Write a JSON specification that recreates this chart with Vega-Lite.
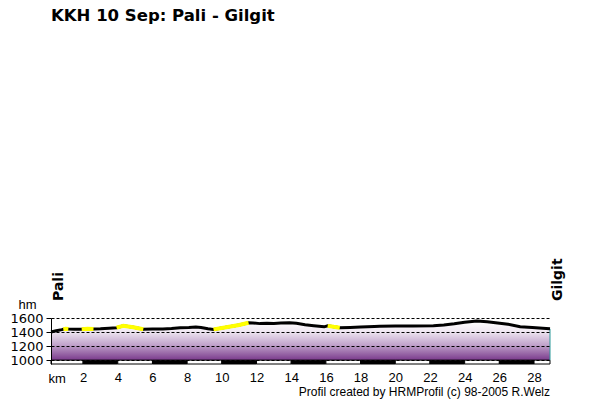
{
  "$schema": "https://vega.github.io/schema/vega-lite/v6.json",
  "width": 499,
  "height": 46,
  "autosize": "none",
  "padding": {"left": 51, "top": 318, "right": 50, "bottom": 36},
  "background": "white",
  "title": {
    "text": "KKH 10 Sep: Pali - Gilgit",
    "anchor": "start",
    "frame": "group",
    "font": "DejaVu Sans",
    "fontSize": 16.5,
    "fontWeight": "bold",
    "color": "black",
    "baseline": "alphabetic",
    "offset": 0,
    "dy": -221
  },
  "datasets": {
    "profile": [
      {"km": 0.15, "elev": 1400, "seg": 0},
      {"km": 0.45, "elev": 1418, "seg": 0},
      {"km": 0.77, "elev": 1434, "seg": 0},
      {"km": 0.86, "elev": 1440, "seg": 1},
      {"km": 1.0, "elev": 1446, "seg": 1},
      {"km": 1.15, "elev": 1442, "seg": 1},
      {"km": 1.5, "elev": 1440, "seg": 0},
      {"km": 1.92, "elev": 1440, "seg": 2},
      {"km": 2.25, "elev": 1446, "seg": 2},
      {"km": 2.6, "elev": 1442, "seg": 2},
      {"km": 3.0, "elev": 1446, "seg": 0},
      {"km": 3.5, "elev": 1455, "seg": 0},
      {"km": 3.93, "elev": 1462, "seg": 3},
      {"km": 4.32, "elev": 1490, "seg": 3},
      {"km": 4.9, "elev": 1468, "seg": 3},
      {"km": 5.47, "elev": 1440, "seg": 3},
      {"km": 6.0, "elev": 1442, "seg": 0},
      {"km": 6.6, "elev": 1444, "seg": 0},
      {"km": 7.1, "elev": 1450, "seg": 0},
      {"km": 7.6, "elev": 1462, "seg": 0},
      {"km": 8.1, "elev": 1466, "seg": 0},
      {"km": 8.5, "elev": 1472, "seg": 0},
      {"km": 8.8, "elev": 1466, "seg": 0},
      {"km": 9.2, "elev": 1448, "seg": 0},
      {"km": 9.52, "elev": 1438, "seg": 4},
      {"km": 10.0, "elev": 1458, "seg": 4},
      {"km": 10.5, "elev": 1478, "seg": 4},
      {"km": 11.0, "elev": 1500, "seg": 4},
      {"km": 11.54, "elev": 1532, "seg": 4},
      {"km": 11.8, "elev": 1530, "seg": 0},
      {"km": 12.2, "elev": 1520, "seg": 0},
      {"km": 12.6, "elev": 1526, "seg": 0},
      {"km": 13.0, "elev": 1522, "seg": 0},
      {"km": 13.4, "elev": 1530, "seg": 0},
      {"km": 13.9, "elev": 1532, "seg": 0},
      {"km": 14.3, "elev": 1524, "seg": 0},
      {"km": 14.8, "elev": 1505, "seg": 0},
      {"km": 15.3, "elev": 1490, "seg": 0},
      {"km": 15.9, "elev": 1474, "seg": 0},
      {"km": 16.1, "elev": 1488, "seg": 5},
      {"km": 16.45, "elev": 1474, "seg": 5},
      {"km": 16.8, "elev": 1462, "seg": 5},
      {"km": 17.4, "elev": 1466, "seg": 0},
      {"km": 18.0, "elev": 1472, "seg": 0},
      {"km": 18.8, "elev": 1480, "seg": 0},
      {"km": 19.1, "elev": 1484, "seg": 0},
      {"km": 20.0, "elev": 1486, "seg": 0},
      {"km": 21.0, "elev": 1486, "seg": 0},
      {"km": 22.2, "elev": 1488, "seg": 0},
      {"km": 22.8, "elev": 1500, "seg": 0},
      {"km": 23.4, "elev": 1518, "seg": 0},
      {"km": 24.0, "elev": 1540, "seg": 0},
      {"km": 24.7, "elev": 1556, "seg": 0},
      {"km": 25.3, "elev": 1548, "seg": 0},
      {"km": 25.9, "elev": 1530, "seg": 0},
      {"km": 26.5, "elev": 1512, "seg": 0},
      {"km": 27.2, "elev": 1476, "seg": 0},
      {"km": 27.9, "elev": 1466, "seg": 0},
      {"km": 28.7, "elev": 1450, "seg": 0},
      {"km": 28.92, "elev": 1446, "seg": 0}
    ],
    "scale": [
      {"from": 0.15, "to": 2, "shade": "w"},
      {"from": 2, "to": 4, "shade": "b"},
      {"from": 4, "to": 6, "shade": "w"},
      {"from": 6, "to": 8, "shade": "b"},
      {"from": 8, "to": 10, "shade": "w"},
      {"from": 10, "to": 12, "shade": "b"},
      {"from": 12, "to": 14, "shade": "w"},
      {"from": 14, "to": 16, "shade": "b"},
      {"from": 16, "to": 18, "shade": "w"},
      {"from": 18, "to": 20, "shade": "b"},
      {"from": 20, "to": 22, "shade": "w"},
      {"from": 22, "to": 24, "shade": "b"},
      {"from": 24, "to": 26, "shade": "w"},
      {"from": 26, "to": 28, "shade": "b"},
      {"from": 28, "to": 28.92, "shade": "w"}
    ],
    "ends": [
      {"km": 0.15, "name": "Pali"},
      {"km": 28.92, "name": "Gilgit"}
    ],
    "notes": [
      {"note": "Profil created by HRMProfil (c) 98-2005 R.Welz"}
    ]
  },
  "layer": [
    {
      "data": {"name": "profile"},
      "mark": {
        "type": "area",
        "color": {
          "gradient": "linear",
          "x1": 0, "y1": 0, "x2": 0, "y2": 1,
          "stops": [
            {"offset": 0, "color": "#ffffff"},
            {"offset": 0.25, "color": "#f1eaf3"},
            {"offset": 0.6, "color": "#c2a5cc"},
            {"offset": 1, "color": "#7a3a8c"}
          ]
        }
      },
      "encoding": {
        "x": {
          "field": "km",
          "type": "quantitative",
          "scale": {"domain": [0.15, 28.92], "nice": false, "zero": false},
          "axis": {
            "values": [2, 4, 6, 8, 10, 12, 14, 16, 18, 20, 22, 24, 26, 28],
            "tickCount": 30,
            "labelOverlap": false,
            "labelFlush": false,
            "ticks": false,
            "domain": false,
            "grid": false,
            "labelPadding": 7,
            "labelFont": "Liberation Sans",
            "labelFontSize": 13,
            "labelColor": "black",
            "title": "km",
            "titleFont": "Liberation Sans",
            "titleFontSize": 13,
            "titleFontWeight": "normal",
            "titleColor": "black",
            "titleAlign": "left",
            "titleBaseline": "alphabetic",
            "titleX": -3,
            "titleY": 18
          }
        },
        "y": {
          "field": "elev",
          "type": "quantitative",
          "scale": {"domain": [945, 1600], "nice": false, "zero": false},
          "axis": {
            "values": [1000, 1200, 1400, 1600],
            "tickCount": 10,
            "format": "d",
            "labelOverlap": false,
            "labelFlush": false,
            "zindex": 1,
            "grid": true,
            "gridColor": "black",
            "gridDash": [3, 2],
            "gridWidth": 1,
            "gridOpacity": 1,
            "domainColor": "black",
            "tickColor": "black",
            "tickSize": 5,
            "labelPadding": 3,
            "labelFont": "DejaVu Sans",
            "labelFontSize": 13,
            "labelColor": "black",
            "title": "hm",
            "titleAngle": 0,
            "titleFont": "Liberation Sans",
            "titleFontSize": 13,
            "titleFontWeight": "normal",
            "titleColor": "black",
            "titleAlign": "left",
            "titleBaseline": "alphabetic",
            "titleX": -33,
            "titleY": -10
          }
        },
        "y2": {"datum": 1000}
      }
    },
    {
      "data": {"name": "scale"},
      "mark": {"type": "rect", "stroke": "black", "strokeWidth": 1},
      "encoding": {
        "x": {"field": "from", "type": "quantitative"},
        "x2": {"field": "to"},
        "y": {"datum": 945},
        "y2": {"datum": 1000},
        "color": {
          "field": "shade",
          "type": "nominal",
          "scale": {"domain": ["w", "b"], "range": ["white", "black"]},
          "legend": null
        }
      }
    },
    {
      "data": {"name": "profile"},
      "transform": [{"filter": "datum.km == 28.92"}],
      "mark": {"type": "rule", "color": "#2a9a9a", "strokeWidth": 1},
      "encoding": {
        "x": {"field": "km", "type": "quantitative"},
        "y": {"field": "elev", "type": "quantitative"},
        "y2": {"datum": 1000}
      }
    },
    {
      "data": {"name": "profile"},
      "mark": {"type": "line", "color": "black", "strokeWidth": 3},
      "encoding": {
        "x": {"field": "km", "type": "quantitative"},
        "y": {"field": "elev", "type": "quantitative"}
      }
    },
    {
      "data": {"name": "profile"},
      "transform": [{"filter": "datum.seg > 0"}],
      "mark": {"type": "line", "color": "#ffff00", "strokeWidth": 4},
      "encoding": {
        "x": {"field": "km", "type": "quantitative"},
        "y": {"field": "elev", "type": "quantitative"},
        "detail": {"field": "seg", "type": "nominal"}
      }
    },
    {
      "data": {"name": "ends"},
      "mark": {
        "type": "text",
        "angle": 270,
        "align": "left",
        "baseline": "middle",
        "dx": 17,
        "dy": 8,
        "font": "DejaVu Sans",
        "fontSize": 14,
        "fontWeight": "bold",
        "color": "black"
      },
      "encoding": {
        "x": {"field": "km", "type": "quantitative"},
        "y": {"datum": 1600},
        "text": {"field": "name"}
      }
    },
    {
      "data": {"name": "notes"},
      "mark": {
        "type": "text",
        "align": "right",
        "baseline": "alphabetic",
        "dy": 32,
        "font": "Liberation Sans",
        "fontSize": 12,
        "color": "black"
      },
      "encoding": {
        "x": {"datum": 28.92},
        "y": {"datum": 945},
        "text": {"field": "note"}
      }
    }
  ],
  "config": {
    "view": {"stroke": null},
    "font": "Liberation Sans"
  }
}
